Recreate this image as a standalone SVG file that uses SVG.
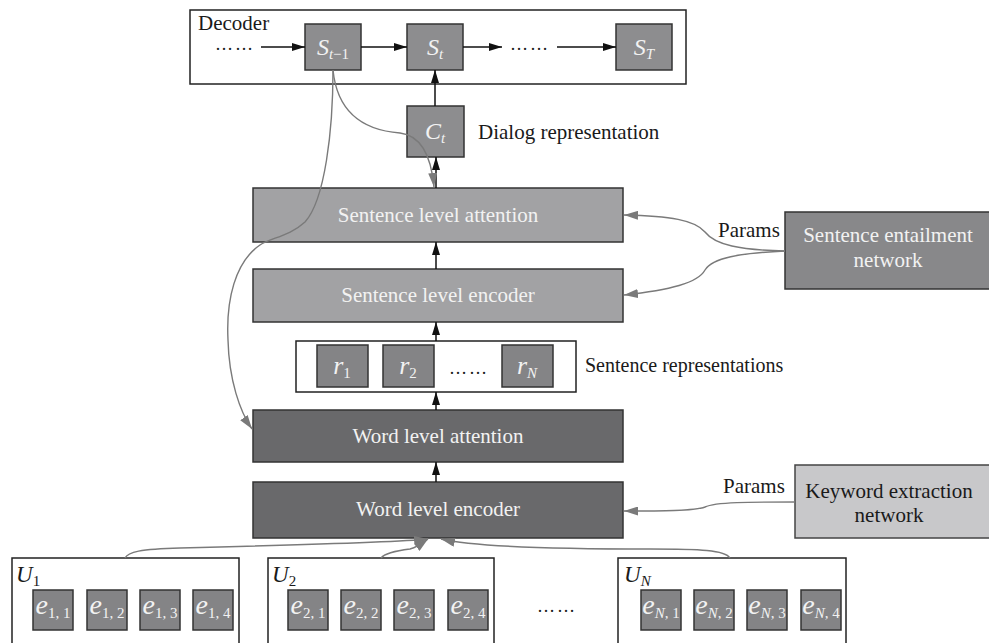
<svg xmlns="http://www.w3.org/2000/svg" width="989" height="643" viewBox="0 0 989 643" font-family="'Liberation Serif', 'Times New Roman', serif">
<defs>
<style>
.t{font-size:21px;fill:#1a1a1a}
.w{font-size:21px;fill:#f2f2f2}
.d{font-size:18px;fill:#1a1a1a}
.mi{font-style:italic}
.sub{font-size:15px}
.frame{fill:#fff;stroke:#222;stroke-width:1.5}
.sbox{fill:#8d8d8f;stroke:#333;stroke-width:1.5}
.slev{fill:#a2a2a4;stroke:#333;stroke-width:1.5}
.wlev{fill:#69696b;stroke:#333;stroke-width:1.5}
.ebox{fill:#848486;stroke:#333;stroke-width:1.5}
.kbox{fill:#c8c8ca;stroke:#444;stroke-width:1.5}
.ent{fill:#88888a;stroke:#333;stroke-width:1.5}
.ar{fill:none;stroke:#111;stroke-width:1.5;marker-end:url(#ab)}
.gr{fill:none;stroke:#7a7a7a;stroke-width:1.4;marker-end:url(#ag)}
</style>
<marker id="ab" markerWidth="13" markerHeight="8" refX="13" refY="4" orient="auto" markerUnits="userSpaceOnUse"><path d="M0,0 L13,4 L0,8 Z" fill="#111"/></marker>
<marker id="ag" markerWidth="14" markerHeight="9" refX="14" refY="4.5" orient="auto" markerUnits="userSpaceOnUse"><path d="M0,0 L14,4.5 L0,9 Z" fill="#7a7a7a"/></marker>
</defs>

<g id="decoder">
<rect class="frame" x="190" y="10" width="496" height="74"/>
<text class="t" x="198" y="30">Decoder</text>
<text class="d" x="215" y="50" textLength="38">……</text>
<text class="d" x="510" y="50" textLength="38">……</text>
</g>
<g id="s_tm1">
<rect class="sbox" x="305" y="24" width="56" height="46"/>
<text class="w" x="333" y="55" text-anchor="middle"><tspan class="mi" font-size="24">S</tspan><tspan class="sub" dy="4"><tspan class="mi">t</tspan>−1</tspan></text>
</g>
<g id="s_t">
<rect class="sbox" x="407" y="24" width="56" height="46"/>
<text class="w" x="435" y="55" text-anchor="middle"><tspan class="mi" font-size="24">S</tspan><tspan class="sub mi" dy="4">t</tspan></text>
</g>
<g id="s_T">
<rect class="sbox" x="616" y="24" width="56" height="46"/>
<text class="w" x="644" y="55" text-anchor="middle"><tspan class="mi" font-size="24">S</tspan><tspan class="sub mi" dy="4">T</tspan></text>
</g>
<g id="c_t">
<rect class="sbox" x="407" y="106" width="57" height="51"/>
<text class="w" x="435" y="139" text-anchor="middle"><tspan class="mi" font-size="24">C</tspan><tspan class="sub mi" dy="4">t</tspan></text>
<text class="t" x="478" y="139">Dialog representation</text>
</g>
<g id="sent_att">
<rect class="slev" x="253" y="188" width="370" height="54"/>
<text class="w" x="438" y="222" text-anchor="middle">Sentence level attention</text>
</g>
<g id="sent_enc">
<rect class="slev" x="253" y="269" width="370" height="53"/>
<text class="w" x="438" y="302" text-anchor="middle">Sentence level encoder</text>
</g>
<g id="sent_rep">
<rect class="frame" x="296" y="341" width="280" height="51"/>
<rect class="ebox" x="317" y="345" width="51" height="42"/>
<text class="w" x="342" y="374" text-anchor="middle"><tspan class="mi" font-size="26">r</tspan><tspan class="sub" dy="4">1</tspan></text>
<rect class="ebox" x="383" y="345" width="51" height="42"/>
<text class="w" x="408" y="374" text-anchor="middle"><tspan class="mi" font-size="26">r</tspan><tspan class="sub" dy="4">2</tspan></text>
<text class="d" x="449" y="374" textLength="38">……</text>
<rect class="ebox" x="502" y="345" width="51" height="42"/>
<text class="w" x="527" y="374" text-anchor="middle"><tspan class="mi" font-size="26">r</tspan><tspan class="sub mi" dy="4">N</tspan></text>
<text class="t" x="585" y="372" style="font-size:20px">Sentence representations</text>
</g>
<g id="word_att">
<rect class="wlev" x="253" y="410" width="370" height="52"/>
<text class="w" x="438" y="443" text-anchor="middle">Word level attention</text>
</g>
<g id="word_enc">
<rect class="wlev" x="253" y="482" width="370" height="56"/>
<text class="w" x="438" y="516" text-anchor="middle">Word level encoder</text>
</g>
<g id="entail">
<rect class="ent" x="785" y="212" width="210" height="77"/>
<text class="w" x="888" y="242" text-anchor="middle">Sentence entailment</text>
<text class="w" x="888" y="267" text-anchor="middle">network</text>
<text class="t" x="718" y="237">Params</text>
</g>
<g id="keyword">
<rect class="kbox" x="795" y="465" width="200" height="73"/>
<text class="t" x="889" y="498" text-anchor="middle">Keyword extraction</text>
<text class="t" x="889" y="522" text-anchor="middle">network</text>
<text class="t" x="723" y="493">Params</text>
</g>
<g id="u1">
<rect class="frame" x="12" y="558" width="227" height="100"/>
<text class="t" x="16" y="582"><tspan class="mi" font-size="23">U</tspan><tspan class="sub" dy="4">1</tspan></text>
<rect class="ebox" x="33" y="590" width="40" height="40"/>
<rect class="ebox" x="87" y="590" width="40" height="40"/>
<rect class="ebox" x="140" y="590" width="40" height="40"/>
<rect class="ebox" x="193" y="590" width="40" height="40"/>
<text class="w" x="53" y="614" text-anchor="middle"><tspan class="mi" font-size="28">e</tspan><tspan class="sub" dy="4">1, 1</tspan></text>
<text class="w" x="107" y="614" text-anchor="middle"><tspan class="mi" font-size="28">e</tspan><tspan class="sub" dy="4">1, 2</tspan></text>
<text class="w" x="160" y="614" text-anchor="middle"><tspan class="mi" font-size="28">e</tspan><tspan class="sub" dy="4">1, 3</tspan></text>
<text class="w" x="213" y="614" text-anchor="middle"><tspan class="mi" font-size="28">e</tspan><tspan class="sub" dy="4">1, 4</tspan></text>
</g>
<g id="u2">
<rect class="frame" x="268" y="558" width="226" height="100"/>
<text class="t" x="272" y="582"><tspan class="mi" font-size="23">U</tspan><tspan class="sub" dy="4">2</tspan></text>
<rect class="ebox" x="288" y="590" width="40" height="40"/>
<rect class="ebox" x="341" y="590" width="40" height="40"/>
<rect class="ebox" x="394" y="590" width="40" height="40"/>
<rect class="ebox" x="448" y="590" width="40" height="40"/>
<text class="w" x="308" y="614" text-anchor="middle"><tspan class="mi" font-size="28">e</tspan><tspan class="sub" dy="4">2, 1</tspan></text>
<text class="w" x="361" y="614" text-anchor="middle"><tspan class="mi" font-size="28">e</tspan><tspan class="sub" dy="4">2, 2</tspan></text>
<text class="w" x="414" y="614" text-anchor="middle"><tspan class="mi" font-size="28">e</tspan><tspan class="sub" dy="4">2, 3</tspan></text>
<text class="w" x="468" y="614" text-anchor="middle"><tspan class="mi" font-size="28">e</tspan><tspan class="sub" dy="4">2, 4</tspan></text>
</g>
<text class="d" x="537" y="612" textLength="38">……</text>
<g id="uN">
<rect class="frame" x="618" y="558" width="228" height="100"/>
<text class="t" x="624" y="582"><tspan class="mi" font-size="23">U</tspan><tspan class="sub mi" dy="4">N</tspan></text>
<rect class="ebox" x="641" y="590" width="40" height="40"/>
<rect class="ebox" x="694" y="590" width="40" height="40"/>
<rect class="ebox" x="747" y="590" width="40" height="40"/>
<rect class="ebox" x="801" y="590" width="40" height="40"/>
<text class="w" x="661" y="614" text-anchor="middle"><tspan class="mi" font-size="28">e</tspan><tspan class="sub" dy="4"><tspan class="mi">N</tspan>, 1</tspan></text>
<text class="w" x="714" y="614" text-anchor="middle"><tspan class="mi" font-size="28">e</tspan><tspan class="sub" dy="4"><tspan class="mi">N</tspan>, 2</tspan></text>
<text class="w" x="767" y="614" text-anchor="middle"><tspan class="mi" font-size="28">e</tspan><tspan class="sub" dy="4"><tspan class="mi">N</tspan>, 3</tspan></text>
<text class="w" x="821" y="614" text-anchor="middle"><tspan class="mi" font-size="28">e</tspan><tspan class="sub" dy="4"><tspan class="mi">N</tspan>, 4</tspan></text>
</g>

<g id="connectors">
<path class="ar" d="M261,47 L305,47"/>
<path class="ar" d="M361,47 L407,47"/>
<path class="ar" d="M463,47 L502,47"/>
<path class="ar" d="M557,47 L616,47"/>
<path class="ar" d="M435,106 L435,70"/>
<path class="ar" d="M436,188 L436,157"/>
<path class="ar" d="M436,269 L436,242"/>
<path class="ar" d="M436,341 L436,322"/>
<path class="ar" d="M436,410 L436,392"/>
<path class="ar" d="M436,482 L436,462"/>
<path class="gr" d="M333,70 C337,110 360,130 400,133 C425,136 432,165 434,187"/>
<path class="gr" d="M333,70 C333,130 325,200 305,222 C290,236 270,238 260,245 C235,262 226,300 228,340 C229,380 240,412 252,429"/>
<path class="gr" d="M785,251 C740,250 715,245 705,232 C695,220 670,216 624,215"/>
<path class="gr" d="M785,251 C740,253 712,258 705,270 C698,283 670,290 624,295"/>
<path class="gr" d="M795,502 C750,502 715,502 705,507 C695,511 660,511 624,511"/>
<path class="gr" d="M125,558 C128,552 140,549 180,548 C300,545 400,542 428,539"/>
<path class="gr" d="M381,558 C385,553 395,551 410,549 C418,547 424,542 428,539"/>
<path class="gr" d="M730,558 C725,550 700,549 650,549 C540,549 470,546 441,539"/>
</g>
</svg>
